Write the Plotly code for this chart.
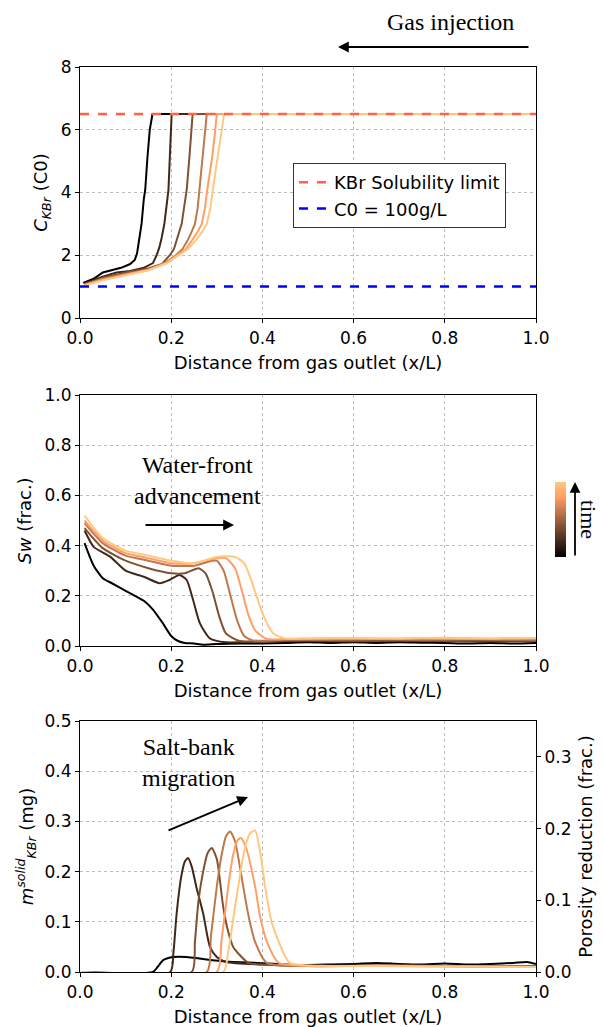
import plotly.graph_objects as go

# ---------------- data ----------------
# panel 1: KBr concentration (C0) vs distance
C_x = [
    [0.007, 0.03, 0.05, 0.07, 0.09, 0.11, 0.12, 0.125, 0.13, 0.135, 0.14, 0.143, 0.148, 0.153, 0.159, 0.4, 0.7, 1.0],
    [0.01, 0.05, 0.08, 0.11, 0.14, 0.16, 0.168, 0.174, 0.179, 0.185, 0.19, 0.194, 0.197, 0.199, 0.201, 0.4, 0.7, 1.0],
    [0.01, 0.05, 0.1, 0.15, 0.18, 0.197, 0.206, 0.212, 0.218, 0.223, 0.229, 0.234, 0.24, 0.244, 0.247, 0.5, 1.0],
    [0.01, 0.05, 0.1, 0.15, 0.19, 0.21, 0.225, 0.237, 0.245, 0.252, 0.258, 0.262, 0.27, 0.275, 0.278, 0.5, 1.0],
    [0.01, 0.05, 0.1, 0.15, 0.19, 0.214, 0.232, 0.247, 0.258, 0.267, 0.274, 0.279, 0.29, 0.296, 0.30, 0.5, 1.0],
    [0.01, 0.05, 0.1, 0.15, 0.19, 0.218, 0.237, 0.255, 0.268, 0.278, 0.286, 0.291, 0.297, 0.302, 0.31, 0.316, 0.5, 1.0],
]
C_y = [
    [1.12, 1.25, 1.45, 1.52, 1.6, 1.72, 1.85, 2.05, 2.5, 3.0, 3.8, 4.08, 5.14, 6.0, 6.5, 6.5, 6.5, 6.5],
    [1.1, 1.32, 1.45, 1.5, 1.6, 1.75, 2.0, 2.25, 2.55, 3.0, 3.6, 4.08, 5.14, 5.9, 6.5, 6.5, 6.5, 6.5],
    [1.08, 1.28, 1.45, 1.58, 1.72, 2.0, 2.2, 2.5, 2.75, 3.0, 3.6, 4.08, 5.14, 5.9, 6.5, 6.5, 6.5],
    [1.06, 1.25, 1.4, 1.55, 1.78, 2.0, 2.2, 2.5, 2.75, 3.0, 3.5, 4.08, 5.14, 5.9, 6.5, 6.5, 6.5],
    [1.05, 1.22, 1.38, 1.53, 1.76, 2.0, 2.2, 2.5, 2.75, 3.0, 3.5, 4.08, 5.14, 5.9, 6.5, 6.5, 6.5],
    [1.04, 1.2, 1.36, 1.52, 1.74, 2.0, 2.2, 2.5, 2.75, 3.0, 3.5, 4.08, 4.6, 5.14, 5.9, 6.5, 6.5, 6.5],
]
solubility_limit = 6.5
c0_level = 1.0

# panel 2: water saturation vs distance
S_x = [
    [0.01, 0.03, 0.05, 0.07, 0.10, 0.14, 0.16, 0.18, 0.2, 0.215, 0.23, 0.25, 0.27, 0.3, 0.35, 0.4, 0.45, 0.5, 0.55, 0.6, 0.65, 0.7, 0.75, 0.8, 0.85, 0.9, 0.95, 1.0],
    [0.01, 0.03, 0.066, 0.1, 0.14, 0.175, 0.196, 0.218, 0.234, 0.248, 0.263, 0.285, 0.32, 0.4, 0.5, 0.6, 0.7, 0.8, 0.9, 1.0],
    [0.01, 0.05, 0.1, 0.15, 0.2, 0.23, 0.26, 0.275, 0.29, 0.305, 0.32, 0.35, 0.4, 0.5, 0.6, 0.7, 0.8, 0.9, 1.0],
    [0.01, 0.05, 0.1, 0.15, 0.2, 0.25, 0.29, 0.30, 0.315, 0.33, 0.345, 0.36, 0.38, 0.45, 0.55, 0.65, 0.75, 0.85, 0.95, 1.0],
    [0.01, 0.05, 0.1, 0.15, 0.2, 0.25, 0.3, 0.32, 0.34, 0.355, 0.37, 0.385, 0.41, 0.45, 0.55, 0.65, 0.75, 0.85, 0.95, 1.0],
    [0.01, 0.05, 0.1, 0.15, 0.2, 0.25, 0.3, 0.34, 0.36, 0.373, 0.385, 0.395, 0.41, 0.424, 0.45, 0.5, 0.6, 0.7, 0.8, 0.9, 1.0],
]
S_y = [
    [0.41, 0.32, 0.27, 0.25, 0.22, 0.18, 0.145, 0.095, 0.04, 0.02, 0.012, 0.01, 0.005, 0.008, 0.01, 0.01, 0.012, 0.015, 0.012, 0.015, 0.012, 0.015, 0.013, 0.012, 0.01, 0.012, 0.01, 0.012],
    [0.46, 0.395, 0.356, 0.30, 0.276, 0.25, 0.263, 0.283, 0.263, 0.183, 0.09, 0.03, 0.015, 0.018, 0.02, 0.018, 0.02, 0.02, 0.018, 0.02],
    [0.47, 0.39, 0.34, 0.31, 0.29, 0.29, 0.31, 0.29, 0.22, 0.12, 0.05, 0.02, 0.02, 0.022, 0.02, 0.022, 0.02, 0.022, 0.02],
    [0.49, 0.41, 0.36, 0.34, 0.32, 0.32, 0.34, 0.34, 0.30, 0.20, 0.10, 0.04, 0.022, 0.025, 0.025, 0.027, 0.025, 0.027, 0.025, 0.025],
    [0.50, 0.42, 0.37, 0.35, 0.33, 0.33, 0.35, 0.35, 0.31, 0.22, 0.12, 0.06, 0.028, 0.028, 0.03, 0.028, 0.03, 0.028, 0.03, 0.03],
    [0.52, 0.43, 0.38, 0.36, 0.34, 0.33, 0.355, 0.355, 0.33, 0.276, 0.21, 0.157, 0.09, 0.05, 0.03, 0.03, 0.032, 0.03, 0.033, 0.03, 0.032],
]

# panel 3: solid KBr mass vs distance
M_x = [
    [0.0, 0.16, 0.17, 0.183, 0.205, 0.234, 0.27, 0.32, 0.39, 0.45, 0.5, 0.55, 0.6, 0.65, 0.7, 0.75, 0.8, 0.85, 0.9, 0.95, 0.98, 1.0],
    [0.0, 0.198, 0.205, 0.212, 0.222, 0.23, 0.237, 0.245, 0.255, 0.27, 0.285, 0.3, 0.32, 0.4, 0.5, 0.6, 0.7, 0.8, 0.9, 1.0],
    [0.0, 0.245, 0.252, 0.26, 0.27, 0.28, 0.289, 0.3, 0.314, 0.325, 0.336, 0.37, 0.45, 0.55, 0.65, 0.75, 0.85, 0.95, 1.0],
    [0.0, 0.278, 0.287, 0.30, 0.31, 0.32, 0.329, 0.34, 0.358, 0.37, 0.384, 0.41, 0.5, 0.6, 0.7, 0.8, 0.9, 1.0],
    [0.0, 0.30, 0.31, 0.325, 0.335, 0.345, 0.353, 0.365, 0.384, 0.395, 0.41, 0.436, 0.5, 0.6, 0.7, 0.8, 0.9, 1.0],
    [0.0, 0.314, 0.325, 0.34, 0.347, 0.36, 0.372, 0.384, 0.395, 0.406, 0.42, 0.436, 0.46, 0.55, 0.65, 0.75, 0.85, 0.95, 1.0],
]
M_y = [
    [0.0, 0.0, 0.01, 0.024, 0.03, 0.03, 0.026, 0.021, 0.018, 0.015, 0.014, 0.015, 0.016, 0.018, 0.016, 0.015, 0.017, 0.015, 0.016, 0.018, 0.02, 0.016],
    [0.0, 0.0, 0.04, 0.117, 0.19, 0.22, 0.227, 0.21, 0.17, 0.117, 0.05, 0.03, 0.02, 0.015, 0.012, 0.013, 0.012, 0.012, 0.011, 0.012],
    [0.0, 0.0, 0.06, 0.143, 0.2, 0.237, 0.247, 0.225, 0.13, 0.08, 0.05, 0.018, 0.013, 0.012, 0.013, 0.012, 0.012, 0.011, 0.012],
    [0.0, 0.0, 0.07, 0.17, 0.23, 0.27, 0.28, 0.26, 0.17, 0.11, 0.06, 0.018, 0.012, 0.012, 0.013, 0.012, 0.011, 0.011],
    [0.0, 0.0, 0.06, 0.17, 0.23, 0.262, 0.267, 0.245, 0.17, 0.11, 0.06, 0.018, 0.012, 0.012, 0.012, 0.011, 0.011, 0.01],
    [0.0, 0.0, 0.04, 0.13, 0.17, 0.24, 0.275, 0.282, 0.24, 0.17, 0.1, 0.06, 0.018, 0.012, 0.012, 0.011, 0.011, 0.01, 0.01],
]

time_fraction = [0.0, 0.2, 0.4, 0.6, 0.8, 1.0]

# ---------------- helpers ----------------
def copper(t):
    r = min(1.0, 1.25 * t)
    g = 0.7812 * t
    b = 0.4975 * t
    return "rgb(%d,%d,%d)" % (round(r * 255), round(g * 255), round(b * 255))

W, H = 603, 1027
ML, MR, MT, MB = 80, 67, 67, 55
PW, PH = W - ML - MR, H - MT - MB

def px_x(p):
    return (p - ML) / PW

def px_y(p):
    return (H - MB - p) / PH

fig = go.Figure()

# panel 1 curves
for i, t in enumerate(time_fraction):
    fig.add_trace(go.Scatter(x=C_x[i], y=C_y[i], mode="lines",
                             line=dict(color=copper(t), width=2),
                             showlegend=False, xaxis="x", yaxis="y"))
fig.add_trace(go.Scatter(x=[0, 1], y=[solubility_limit, solubility_limit], mode="lines",
                         line=dict(color="#FF6347", width=2.5, dash="dash"),
                         name="KBr Solubility limit", xaxis="x", yaxis="y"))
fig.add_trace(go.Scatter(x=[0, 1], y=[c0_level, c0_level], mode="lines",
                         line=dict(color="#0000FF", width=2.5, dash="dash"),
                         name="C0 = 100g/L", xaxis="x", yaxis="y"))

# panel 2 curves
for i, t in enumerate(time_fraction):
    fig.add_trace(go.Scatter(x=S_x[i], y=S_y[i], mode="lines",
                             line=dict(color=copper(t), width=2, shape="spline", smoothing=0.6),
                             showlegend=False, xaxis="x2", yaxis="y2"))

# colour bar (time)
fig.add_trace(go.Scatter(
    x=[None], y=[None], mode="markers", showlegend=False, hoverinfo="skip",
    xaxis="x2", yaxis="y2",
    marker=dict(color=[0.5], cmin=0, cmax=1, showscale=True,
                colorscale=[[0, "rgb(0,0,0)"], [0.8, "rgb(255,159,101)"], [1, "rgb(255,199,127)"]],
                colorbar=dict(x=px_x(555), xanchor="left", xref="paper",
                              y=px_y(519.5), yanchor="middle", yref="paper",
                              thickness=11, thicknessmode="pixels",
                              len=75 / PH, lenmode="fraction",
                              showticklabels=False, ticks="", outlinewidth=0,
                              xpad=0, ypad=0))))

# panel 3 curves
for i, t in enumerate(time_fraction):
    fig.add_trace(go.Scatter(x=M_x[i], y=M_y[i], mode="lines",
                             line=dict(color=copper(t), width=2, shape="spline", smoothing=0.6),
                             showlegend=False, xaxis="x3", yaxis="y3"))
# invisible trace to activate the right axis
fig.add_trace(go.Scatter(x=[None], y=[None], mode="lines", showlegend=False,
                         xaxis="x3", yaxis="y4", hoverinfo="skip"))

tick_font = dict(family="DejaVu Sans", size=17, color="black")
title_font = dict(family="DejaVu Sans", size=18, color="black")
grid = dict(showgrid=True, gridcolor="#bdbdbd", griddash="dot", gridwidth=1,
            showline=True, linecolor="black", linewidth=1.2, mirror=True,
            ticks="outside", ticklen=4, tickcolor="black", zeroline=False,
            tickfont=tick_font, automargin=False)

d3 = [0.0, px_y(721)]
d2 = [px_y(646), px_y(395)]
d1 = [px_y(318), 1.0]

xcommon = dict(range=[0, 1], dtick=0.2, tick0=0, tickformat=".1f",
               title=dict(text="Distance from gas outlet (x/L)", font=title_font, standoff=9), **grid)

fig.update_layout(
    width=W, height=H,
    margin=dict(l=ML, r=MR, t=MT, b=MB, autoexpand=False),
    paper_bgcolor="white", plot_bgcolor="white",
    font=dict(family="DejaVu Sans", color="black"),
    xaxis=dict(domain=[0, 1], anchor="y", **xcommon),
    yaxis=dict(domain=d1, anchor="x", range=[0, 8], dtick=2, tick0=0,
               title=dict(text="<i>C</i><sub><i>KBr</i></sub> (C0)", font=title_font, standoff=8), **grid),
    xaxis2=dict(domain=[0, 1], anchor="y2", **xcommon),
    yaxis2=dict(domain=d2, anchor="x2", range=[0, 1], dtick=0.2, tick0=0, tickformat=".1f",
                title=dict(text="<i>Sw</i> (frac.)", font=title_font, standoff=8), **grid),
    xaxis3=dict(domain=[0, 1], anchor="y3", **xcommon),
    yaxis3=dict(domain=d3, anchor="x3", range=[0, 0.5], dtick=0.1, tick0=0, tickformat=".1f",
                title=dict(text="<i>m</i><sup><i>solid</i></sup><sub><i>KBr</i></sub> (mg)", font=title_font, standoff=6),
                **grid),
    yaxis4=dict(overlaying="y3", side="right", anchor="x3", range=[0, 0.35], dtick=0.1, tick0=0,
                tickformat=".1f", showgrid=False, zeroline=False, showline=True, linecolor="black",
                linewidth=1.2, ticks="outside", ticklen=4, tickcolor="black", tickfont=tick_font,
                automargin=False,
                title=dict(text="Porosity reduction (frac.)", font=title_font, standoff=8)),
    legend=dict(x=px_x(293), y=px_y(163), xanchor="left", yanchor="top",
                bgcolor="white", bordercolor="#333333", borderwidth=1,
                font=dict(family="DejaVu Sans", size=18, color="black"),
                tracegroupgap=2),
    showlegend=True,
)

serif = dict(family="Liberation Serif", size=24, color="black")
ann = [
    dict(x=px_x(450), y=px_y(22), text="Gas injection", showarrow=False, font=serif),
    dict(x=px_x(338), y=px_y(47), ax=192, ay=0, text="", showarrow=True,
         arrowhead=2, arrowsize=1.2, arrowwidth=1.8, arrowcolor="black"),
    dict(x=px_x(197), y=px_y(480), text="Water-front<br>advancement", showarrow=False, font=serif),
    dict(x=px_x(234), y=px_y(525), ax=-90, ay=0, text="", showarrow=True,
         arrowhead=2, arrowsize=1.2, arrowwidth=1.8, arrowcolor="black"),
    dict(x=px_x(188), y=px_y(762), text="Salt-bank<br>migration", showarrow=False, font=serif),
    dict(x=px_x(248), y=px_y(797), ax=-81, ay=34, text="", showarrow=True,
         arrowhead=2, arrowsize=1.2, arrowwidth=1.8, arrowcolor="black"),
    dict(x=px_x(575), y=px_y(482), ax=0, ay=75, text="", showarrow=True,
         arrowhead=2, arrowsize=1.2, arrowwidth=1.8, arrowcolor="black"),
    dict(x=px_x(589), y=px_y(519), text="time", textangle=90, showarrow=False,
         font=dict(family="Liberation Serif", size=22, color="black")),
]
for a in ann:
    a.setdefault("xref", "paper")
    a.setdefault("yref", "paper")
    a.setdefault("xanchor", "center")
    a.setdefault("yanchor", "middle")
fig.update_layout(annotations=ann)

fig.write_html("out.html")
